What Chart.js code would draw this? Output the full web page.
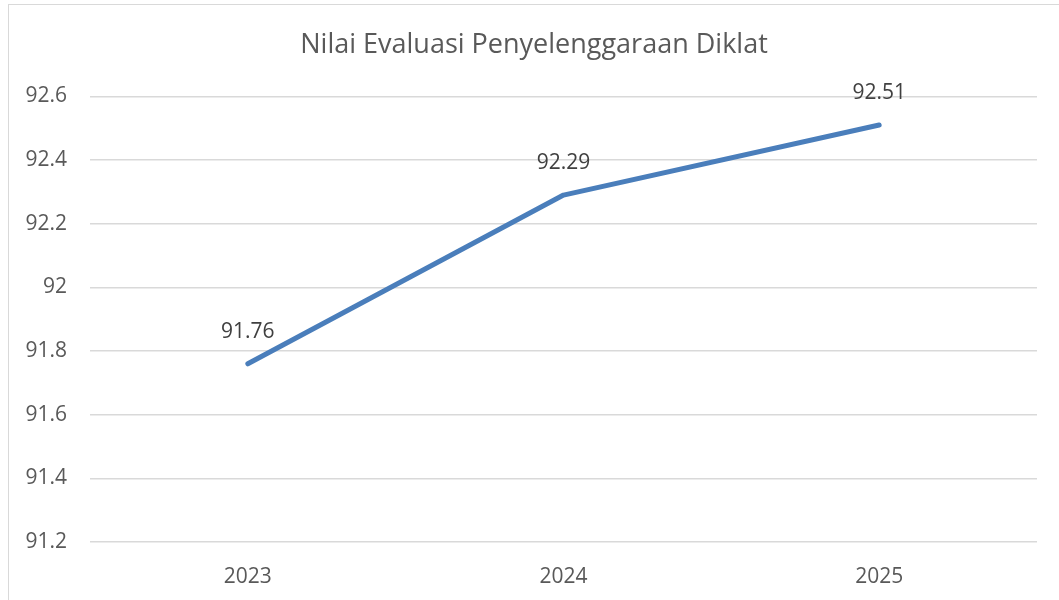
<!DOCTYPE html>
<html>
<head>
<meta charset="utf-8">
<script src="https://cdn.jsdelivr.net/npm/chart.js@4.4.1/dist/chart.umd.min.js"></script>
<style>
    html, body { margin: 0; padding: 0; background: #fff; overflow: hidden; }
    #frame { position: absolute; left: 8px; top: 4px; width: 1200px; height: 800px; border: 1px solid #d9d9d9; }
    #wrap { position: absolute; left: 0; top: 0; width: 1059px; height: 600px; }
</style>
</head>
<body>
<div id="frame"></div>
<div id="wrap"><canvas id="grafik"></canvas></div>
<script>
// data grafik
const tahun = ['2023', '2024', '2025'];
const nilai = [91.76, 92.29, 92.51];
const judul = 'Nilai Evaluasi Penyelenggaraan Diklat';

// label nilai di atas titik
const labelNilai = {
    id: 'labelNilai',
    afterDatasetsDraw(chart) {
        const ctx = chart.ctx;
        const meta = chart.getDatasetMeta(0);
        ctx.save();
        ctx.font = '21px "Open Sans"';
        ctx.fillStyle = '#404040';
        ctx.textAlign = 'center';
        ctx.textBaseline = 'middle';
        meta.data.forEach((pt, i) => {
            ctx.fillText(nilai[i].toFixed(2), pt.x, pt.y - 32);
        });
        ctx.restore();
    }
};

document.addEventListener('DOMContentLoaded', () => {
    const ctx = document.getElementById('grafik').getContext('2d');
    new Chart(ctx, {
        type: 'line',
        data: {
            labels: tahun,
            datasets: [{
                label: judul,
                data: nilai,
                borderColor: '#4a7ebb',
                borderWidth: 5,
                borderCapStyle: 'round',
                borderJoinStyle: 'round',
                pointRadius: 0,
                tension: 0,
                fill: false
            }]
        },
        options: {
            responsive: true,
            maintainAspectRatio: false,
            animation: false,
            layout: { padding: { left: 9, right: 0, top: 0, bottom: 0 } },
            plugins: {
                legend: { display: false },
                tooltip: { enabled: false },
                title: {
                    display: true,
                    text: judul,
                    color: '#595959',
                    font: { family: 'Open Sans', size: 27, weight: 'normal' },
                    padding: { top: 29, bottom: 35 }
                }
            },
            scales: {
                x: {
                    offset: true,
                    grid: { display: false, drawTicks: false },
                    border: { display: false },
                    ticks: { color: '#595959', font: { family: 'Open Sans', size: 21 }, padding: 22 },
                    afterFit(scale) { scale.height = 58; }
                },
                y: {
                    min: 91.2,
                    max: 92.6,
                    grid: { color: '#d9d9d9', lineWidth: 1.5, drawTicks: false },
                    border: { display: false },
                    ticks: {
                        stepSize: 0.2,
                        color: '#595959',
                        font: { family: 'Open Sans', size: 21 },
                        padding: 23,
                        callback: v => parseFloat(v.toFixed(1)).toString()
                    },
                    afterFit(scale) { scale.width = 81; }
                },
                // ruang kosong di kanan
                kanan: {
                    position: 'right',
                    grid: { display: false, drawTicks: false },
                    border: { display: false },
                    ticks: { display: false },
                    afterFit(scale) { scale.width = 22; }
                }
            }
        },
        plugins: [labelNilai]
    });
});
</script>
</body>
</html>
